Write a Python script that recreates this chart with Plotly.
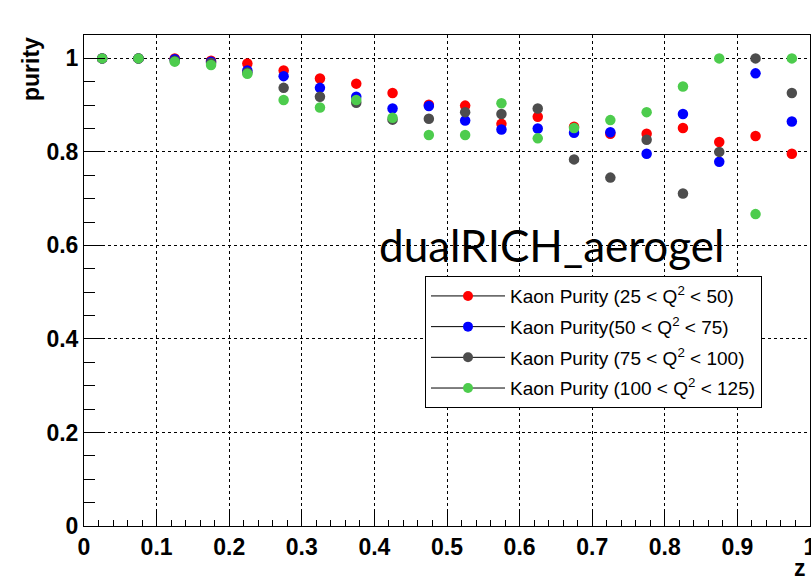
import plotly.graph_objects as go

z = [0.025, 0.075, 0.125, 0.175, 0.225, 0.275, 0.325, 0.375, 0.425, 0.475,
     0.525, 0.575, 0.625, 0.675, 0.725, 0.775, 0.825, 0.875, 0.925, 0.975]
purity_25_50 = [1.0, 1.0, 1.0, 0.995, 0.989, 0.974, 0.957, 0.946, 0.926, 0.901,
                0.899, 0.86, 0.875, 0.854, 0.839, 0.839, 0.851, 0.821, 0.834, 0.796]
purity_50_75 = [1.0, 1.0, 0.998, 0.993, 0.974, 0.962, 0.937, 0.918, 0.893, 0.898,
                0.867, 0.848, 0.85, 0.841, 0.842, 0.796, 0.881, 0.779, 0.968, 0.865]
purity_75_100 = [1.0, 1.0, 0.995, 0.99, 0.97, 0.937, 0.918, 0.905, 0.869, 0.871,
                 0.885, 0.881, 0.893, 0.784, 0.745, 0.826, 0.711, 0.8, 1.0, 0.926]
purity_100_125 = [1.0, 1.0, 0.993, 0.986, 0.967, 0.911, 0.895, 0.911, 0.873, 0.836,
                  0.836, 0.904, 0.829, 0.851, 0.868, 0.885, 0.94, 1.0, 0.667, 1.0]

series_names = [
    "Kaon Purity (25 &lt; Q<sup>2</sup> &lt; 50)",
    "Kaon Purity(50 &lt; Q<sup>2</sup> &lt; 75)",
    "Kaon Purity (75 &lt; Q<sup>2</sup> &lt; 100)",
    "Kaon Purity (100 &lt; Q<sup>2</sup> &lt; 125)",
]
series_values = [purity_25_50, purity_50_75, purity_75_100, purity_100_125]
series_colors = ["#ff0000", "#0000ff", "#4d4d4d", "#4dcc4d"]

fig = go.Figure()
for name, vals, col in zip(series_names, series_values, series_colors):
    fig.add_trace(go.Scatter(x=z, y=vals, mode="markers", showlegend=False,
                             marker=dict(color=col, size=10.5, line=dict(width=0))))
for i, (name, col) in enumerate(zip(series_names, series_colors)):
    fig.add_trace(go.Scatter(x=[None], y=[None], mode="lines+markers", name=name,
                             legendgroup=f"g{i}",
                             line=dict(color="black", width=1),
                             marker=dict(color=col, size=10)))

tickfont = dict(family="Liberation Sans", size=23, color="black", weight="bold")
fig.update_layout(
    width=811, height=580,
    margin=dict(l=84, r=1, t=35, b=54, autoexpand=False),
    paper_bgcolor="white", plot_bgcolor="white",
    showlegend=True,
    legend=dict(x=0.4697, y=0.509, xanchor="left", yanchor="top",
                bgcolor="white", bordercolor="black", borderwidth=1,
                font=dict(family="Liberation Sans", size=19, color="black"),
                itemwidth=74, tracegroupgap=3),
    xaxis=dict(range=[0, 1], dtick=0.1, tick0=0, ticks="inside", ticklen=15,
               tickcolor="black", showline=True, linecolor="black", linewidth=1,
               mirror=True, showgrid=True, gridcolor="black", griddash="dot",
               gridwidth=1, zeroline=False, tickfont=tickfont,
               ticklabeloverflow="allow", automargin=False,
               minor=dict(dtick=0.02, ticks="inside", ticklen=6,
                          tickcolor="black", showgrid=False)),
    yaxis=dict(range=[0, 1.05], dtick=0.2, tick0=0, ticks="inside", ticklen=21,
               tickcolor="black", showline=True, linecolor="black", linewidth=1,
               mirror=True, showgrid=True, gridcolor="black", griddash="dot",
               gridwidth=1, zeroline=False, tickfont=tickfont, automargin=False,
               minor=dict(dtick=0.05, ticks="inside", ticklen=11,
                          tickcolor="black", showgrid=False)),
    annotations=[
        dict(text="purity", textangle=-90, xref="paper", yref="paper",
             x=-0.073, y=1.0, xanchor="center", yanchor="top", showarrow=False,
             font=dict(family="Liberation Sans", size=23, color="black", weight="bold")),
        dict(text="z", xref="paper", yref="paper", x=0.986, y=-0.085,
             xanchor="center", yanchor="middle", showarrow=False,
             font=dict(family="Liberation Sans", size=23, color="black", weight="bold")),
        dict(text="dualRICH_aerogel", xref="paper", yref="paper", x=0.644, y=0.573,
             xanchor="center", yanchor="middle", showarrow=False,
             font=dict(family="Lato", size=44, color="black")),
    ],
)

fig.write_html("out.html")
